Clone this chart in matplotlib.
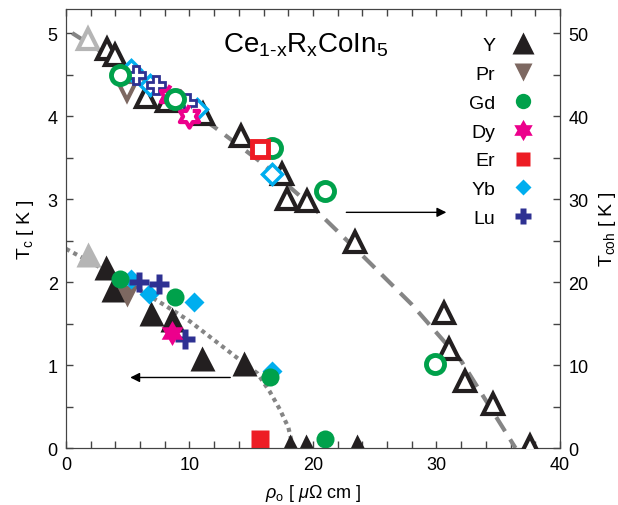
import numpy as np
import matplotlib
matplotlib.use("Agg")
import matplotlib.pyplot as plt
from matplotlib.path import Path
from matplotlib.ticker import MultipleLocator

plt.rcParams['font.family'] = ['Liberation Sans', 'DejaVu Sans']
plt.rcParams['mathtext.fontset'] = 'custom'
plt.rcParams['mathtext.rm'] = 'Liberation Sans'
plt.rcParams['mathtext.it'] = 'Liberation Sans:italic'
plt.rcParams['mathtext.bf'] = 'Liberation Sans:bold'

# pure CeCoIn5 (gray)
rho_pure = [1.8]
tc_pure = [2.34]
tcoh_pure = [49.3]

# Y
rho_Y_tc = [3.2, 3.8, 6.9, 8.6, 11.0, 14.4, 18.1, 19.4, 23.6]
tc_Y = [2.18, 1.92, 1.63, 1.55, 1.09, 1.03, 0.03, 0.03, 0.03]
rho_Y_coh = [3.3, 4.0, 6.5, 8.2, 11.1, 14.2, 17.5, 17.9, 19.5, 23.4,
             30.6, 31.0, 32.3, 34.6, 37.6]
tcoh_Y = [48.1, 47.3, 42.3, 41.8, 40.2, 37.6, 33.0, 30.0, 29.8, 24.8,
          16.3, 11.9, 8.1, 5.3, 0.3]

# Pr
rho_Pr_tc = [4.9]
tc_Pr = [1.83]
rho_Pr_coh = [4.9]
tcoh_Pr = [43.0]

# Gd
rho_Gd_tc = [4.4, 8.8, 16.5, 21.0]
tc_Gd = [2.04, 1.82, 0.86, 0.11]
rho_Gd_coh = [4.4, 8.8, 16.7, 21.0, 29.9]
tcoh_Gd = [44.9, 42.0, 36.2, 31.0, 10.1]

# Dy
rho_Dy_tc = [8.6]
tc_Dy = [1.39]
rho_Dy_coh = [8.4, 10.0]
tcoh_Dy = [42.4, 40.0]

# Er
rho_Er_tc = [15.7]
tc_Er = [0.11]
rho_Er_coh = [15.7]
tcoh_Er = [36.0]

# Yb
rho_Yb_tc = [5.3, 6.7, 10.4, 16.7]
tc_Yb = [2.04, 1.86, 1.76, 0.93]
rho_Yb_coh = [5.3, 6.8, 10.6, 16.7]
tcoh_Yb = [45.5, 43.7, 40.8, 33.0]

# Lu
rho_Lu_tc = [5.9, 7.5, 9.6]
tc_Lu = [2.0, 1.98, 1.31]
rho_Lu_coh = [5.7, 7.3, 9.8]
tcoh_Lu = [44.9, 43.7, 41.6]

# guide lines
rho_guide_coh = [0.5, 4, 8, 12, 16, 20, 24, 28, 32, 36.4]
tcoh_guide = [50.0, 46.7, 42.7, 38.7, 34.2, 29.0, 23.2, 17.3, 10.5, 0.0]
rho_guide_tc = [0.0, 2, 4, 6, 8, 10, 12, 14, 15.5, 16.5, 17.3, 18.0, 18.4]
tc_guide = [2.4, 2.24, 2.07, 1.9, 1.72, 1.53, 1.3, 1.07, 0.9, 0.68, 0.47, 0.25, 0.0]

# hexagram marker for Dy
ang = np.deg2rad(90 + 30 * np.arange(12))
rad = np.where(np.arange(12) % 2 == 0, 1.0, 1 / np.sqrt(3))
star6 = Path(np.column_stack([rad * np.cos(ang), rad * np.sin(ang)]))

c_Y = '#231f20'
c_pure = '#b5b5b5'
c_Pr = '#7d6861'
c_Gd = '#00a14b'
c_Dy = '#ec008c'
c_Er = '#ed1c24'
c_Yb = '#00aeef'
c_Lu = '#2e3192'
c_line = '#858585'

fig = plt.figure(figsize=(6.18, 5.06), dpi=100)
ax = fig.add_axes([0.1068, 0.1126, 0.7993, 0.8676])
ax2 = ax.twinx()

ax.set_xlim(0, 40)
ax.set_ylim(0, 5.29)
ax2.set_ylim(0, 52.9)

# guide lines
ax2.plot(rho_guide_coh, tcoh_guide, color=c_line, lw=3, ls=(0, (4, 2.3)), zorder=1)
ax.plot(rho_guide_tc, tc_guide, color=c_line, lw=3, ls=(0, (1, 1)),
        dash_capstyle='butt', zorder=1)

# Tc (filled, left axis)
ax.plot(rho_pure, tc_pure, '^', color=c_pure, ms=18, mec='none', zorder=3)
hY, = ax.plot(rho_Y_tc, tc_Y, '^', color=c_Y, ms=18, mec='none', zorder=3, label='Y')
hPr, = ax.plot(rho_Pr_tc, tc_Pr, 'v', color=c_Pr, ms=16, mec='none', zorder=3, label='Pr')
hYb, = ax.plot(rho_Yb_tc, tc_Yb, 'D', color=c_Yb, ms=10, mec='none', zorder=3, label='Yb')
hLu, = ax.plot(rho_Lu_tc, tc_Lu, 'P', color=c_Lu, ms=14, mec='none', zorder=3, label='Lu')
hDy, = ax.plot(rho_Dy_tc, tc_Dy, marker=star6, ls='none', color=c_Dy, ms=18, mec='none',
               zorder=3, label='Dy')
hGd, = ax.plot(rho_Gd_tc, tc_Gd, 'o', color=c_Gd, ms=13, mec='none', zorder=3, label='Gd')
hEr, = ax.plot(rho_Er_tc, tc_Er, 's', color=c_Er, ms=12.5, mec='none', zorder=3, label='Er')

# Tcoh (open, right axis)
ax2.plot(rho_pure, tcoh_pure, '^', mfc='white', mec=c_pure, mew=3, ms=14, zorder=3)
ax2.plot(rho_Y_coh, tcoh_Y, '^', mfc='white', mec=c_Y, mew=3, ms=14, zorder=3)
ax2.plot(rho_Pr_coh, tcoh_Pr, 'v', mfc='white', mec=c_Pr, mew=3, ms=13, zorder=3)
ax2.plot(rho_Yb_coh, tcoh_Yb, 'D', mfc='white', mec=c_Yb, mew=2.5, ms=10, zorder=3)
ax2.plot(rho_Lu_coh, tcoh_Lu, 'P', mfc='white', mec=c_Lu, mew=2, ms=13, zorder=3)
ax2.plot(rho_Dy_coh, tcoh_Dy, marker=star6, ls='none', mfc='white', mec=c_Dy, mew=3,
         ms=16, zorder=3)
ax2.plot(rho_Gd_coh, tcoh_Gd, 'o', mfc='white', mec=c_Gd, mew=3.5, ms=13, zorder=3)
ax2.plot(rho_Er_coh, tcoh_Er, 's', mfc='white', mec=c_Er, mew=3.5, ms=11.5, zorder=3)

# arrows
ax.annotate('', xy=(30.8, 2.84), xytext=(22.7, 2.84),
            arrowprops=dict(arrowstyle='-|>', color='k', lw=1, mutation_scale=14,
                            shrinkA=0, shrinkB=0))
ax.annotate('', xy=(5.2, 0.85), xytext=(13.3, 0.85),
            arrowprops=dict(arrowstyle='-|>', color='k', lw=1, mutation_scale=14,
                            shrinkA=0, shrinkB=0))

ax.text(12.7, 4.87, 'Ce$_{\\mathrm{1\u2010x}}$R$_{\\mathrm{x}}$CoIn$_{5}$', fontsize=20,
        ha='left', va='center')

ax.legend(handles=[hY, hPr, hGd, hDy, hEr, hYb, hLu], loc='upper right',
          bbox_to_anchor=(0.965, 0.938), frameon=False, markerfirst=False,
          fontsize=14, handletextpad=0.45, labelspacing=0.58, borderpad=0,
          markerscale=0.85, borderaxespad=0)

ax.xaxis.set_major_locator(MultipleLocator(10))
ax.xaxis.set_minor_locator(MultipleLocator(2))
ax.yaxis.set_major_locator(MultipleLocator(1))
ax.yaxis.set_minor_locator(MultipleLocator(0.5))
ax2.yaxis.set_major_locator(MultipleLocator(10))
ax2.yaxis.set_minor_locator(MultipleLocator(5))

for a in (ax, ax2):
    a.tick_params(which='both', direction='in', length=5, width=1, color='#444444',
                  labelsize=13, pad=6)
    for s in a.spines.values():
        s.set_color('#444444')
ax.tick_params(which='both', top=True, right=False)

ax.set_xlabel(r'$\rho_{\mathrm{o}}$ [ $\mu\Omega$ cm ]', fontsize=13, labelpad=6)
ax.set_ylabel(r'T$_{\mathrm{c}}$ [ K ]', fontsize=14, labelpad=8)
ax2.set_ylabel(r'T$_{\mathrm{coh}}$ [ K ]', fontsize=14, rotation=90, labelpad=6)

fig.savefig('out.png', dpi=100)
